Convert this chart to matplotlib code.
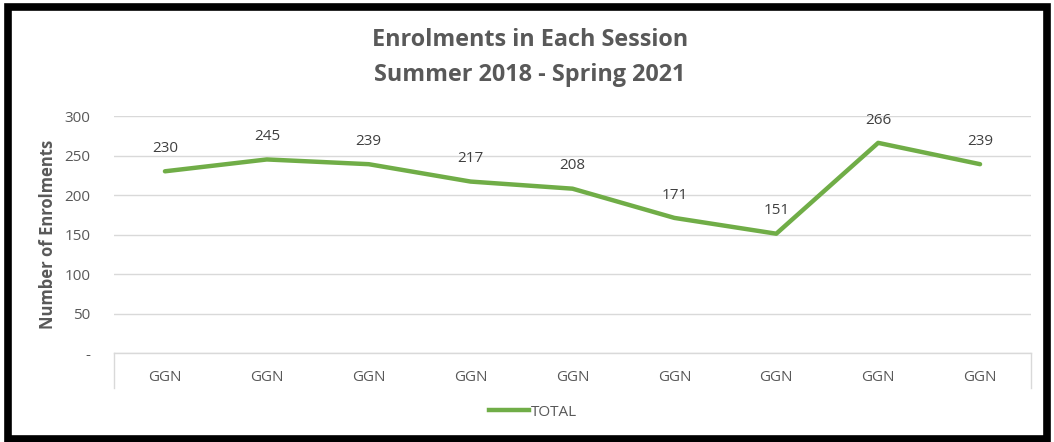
import matplotlib
matplotlib.use("Agg")
import matplotlib.pyplot as plt
from matplotlib.patches import Rectangle
from matplotlib.lines import Line2D

# data
sessions = ["GGN"] * 9
enrolments = [230, 245, 239, 217, 208, 171, 151, 266, 239]
yticks = [0, 50, 100, 150, 200, 250, 300]
ytick_labels = ["-", "50", "100", "150", "200", "250", "300"]

GREEN = "#70AD47"
GRAY = "#595959"
GRID = "#D9D9D9"

plt.rcParams["font.family"] = ["Open Sans", "DejaVu Sans"]

fig = plt.figure(figsize=(10.54, 4.42), dpi=100)
ax = fig.add_axes([114 / 1054, 1 - 353 / 442, (1031 - 114) / 1054, (353 - 116) / 442])

x = list(range(len(enrolments)))
ax.plot(x, enrolments, color=GREEN, linewidth=3.2, solid_joinstyle="round",
        solid_capstyle="round", zorder=3)
for xi, v in zip(x, enrolments):
    ax.annotate(str(v), (xi, v), xytext=(0, 11), textcoords="offset points",
                ha="center", va="bottom", fontsize=11, color="#404040")

ax.set_xlim(-0.5, len(enrolments) - 0.5)
ax.set_ylim(0, 300)
ax.set_yticks(yticks)
ax.set_yticklabels(ytick_labels)
ax.set_xticks(x)
ax.set_xticklabels(sessions)
ax.tick_params(axis="both", length=0, colors=GRAY, labelsize=11)
ax.tick_params(axis="y", pad=17)
ax.tick_params(axis="x", pad=12)
ax.grid(axis="y", color=GRID, linewidth=1.0)
ax.set_axisbelow(True)
for s in ["top", "right", "left"]:
    ax.spines[s].set_visible(False)
ax.spines["bottom"].set_color(GRID)
ax.spines["bottom"].set_linewidth(1.0)

# end boundary lines below the axis (category edges)
for xe in [-0.5, len(enrolments) - 0.5]:
    ax.plot([xe, xe], [0, -0.148 * 300], color=GRID, linewidth=1.0, clip_on=False)

ax.set_ylabel("Number of Enrolments", fontsize=12, fontweight="bold", color=GRAY)
ax.yaxis.set_label_coords(-(114 - 57) / (1031 - 114), 0.5)

fig.text(530 / 1054, 1 - 40 / 442, "Enrolments in Each Session", ha="center", va="center",
         fontsize=16.8, fontweight="bold", color=GRAY)
fig.text(530 / 1054, 1 - 75 / 442, "Summer 2018 - Spring 2021", ha="center", va="center",
         fontsize=16.8, fontweight="bold", color=GRAY)

handle = Line2D([], [], color=GREEN, linewidth=3.2)
fig.legend([handle], ["TOTAL"], loc="center", bbox_to_anchor=(533 / 1054, 1 - 412 / 442),
           frameon=False, fontsize=11, labelcolor=GRAY, handlelength=2.6,
           handletextpad=0.15)

# outer black frame
fig.patches.append(Rectangle((7.5 / 1054, 3 / 442), 1 - 15 / 1054, 1 - 10 / 442,
                             transform=fig.transFigure, fill=False,
                             edgecolor="black", linewidth=5.5))

fig.savefig("out.png", dpi=100)
